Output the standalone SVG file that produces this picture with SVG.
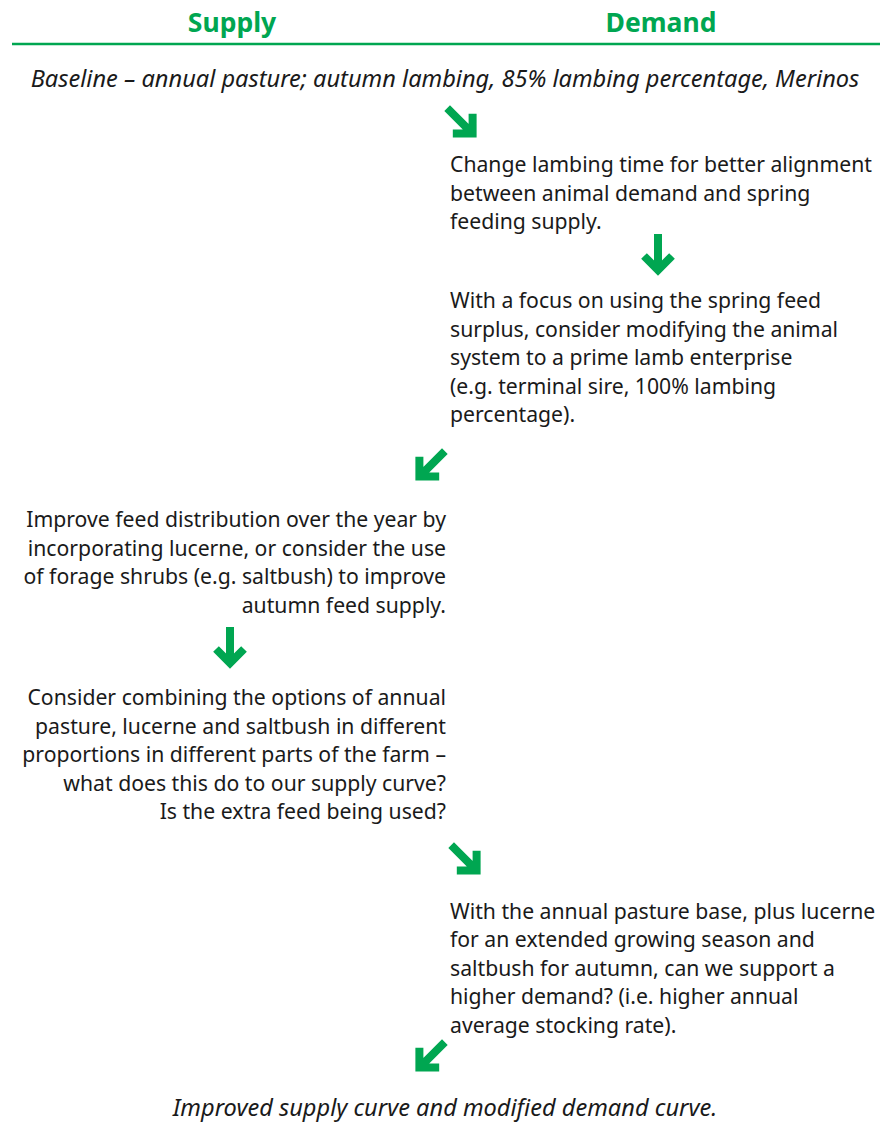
<svg xmlns="http://www.w3.org/2000/svg" width="889" height="1122" viewBox="0 0 889 1122">
<style>
.h{font-family:"Noto Sans","Open Sans",sans-serif;font-weight:bold;font-size:26.5px;fill:#00a651;text-anchor:middle}
.t{font-family:"Noto Sans","Open Sans",sans-serif;font-size:21.2px;fill:#1a1a1a}
.r{text-anchor:end}
.i{font-style:italic;text-anchor:middle;font-size:23.6px}
</style>
<defs>
<g id="arr"><path d="M0,-21 V15 M-14,1 L0,15 L14,1" fill="none" stroke="#00a651" stroke-width="8" stroke-linejoin="miter"/></g>
</defs>
<g id="header">
<text class="h" x="232" y="32">Supply</text>
<text class="h" x="661" y="32">Demand</text>
<line x1="12" y1="44" x2="880" y2="44" stroke="#00a651" stroke-width="2.5"/>
</g>
<g id="baseline"><text class="t i" x="445" y="87">Baseline – annual pasture; autumn lambing, 85% lambing percentage, Merinos</text></g>
<g id="n1">
<text class="t" x="450" y="172">Change lambing time for better alignment</text>
<text class="t" x="450" y="201">between animal demand and spring</text>
<text class="t" x="450" y="229">feeding supply.</text>
</g>
<g id="n2">
<text class="t" x="450" y="308">With a focus on using the spring feed</text>
<text class="t" x="450" y="337">surplus, consider modifying the animal</text>
<text class="t" x="450" y="365">system to a prime lamb enterprise</text>
<text class="t" x="450" y="394">(e.g. terminal sire, 100% lambing</text>
<text class="t" x="450" y="422">percentage).</text>
</g>
<g id="n3">
<text class="t r" x="446" y="527">Improve feed distribution over the year by</text>
<text class="t r" x="446" y="556">incorporating lucerne, or consider the use</text>
<text class="t r" x="446" y="584">of forage shrubs (e.g. saltbush) to improve</text>
<text class="t r" x="446" y="613">autumn feed supply.</text>
</g>
<g id="n4">
<text class="t r" x="446" y="705">Consider combining the options of annual</text>
<text class="t r" x="446" y="734">pasture, lucerne and saltbush in different</text>
<text class="t r" x="446" y="762">proportions in different parts of the farm –</text>
<text class="t r" x="446" y="791">what does this do to our supply curve?</text>
<text class="t r" x="446" y="819">Is the extra feed being used?</text>
</g>
<g id="n5">
<text class="t" x="450" y="919">With the annual pasture base, plus lucerne</text>
<text class="t" x="450" y="947">for an extended growing season and</text>
<text class="t" x="450" y="976">saltbush for autumn, can we support a</text>
<text class="t" x="450" y="1004">higher demand? (i.e. higher annual</text>
<text class="t" x="450" y="1033">average stocking rate).</text>
</g>
<g id="result"><text class="t i" x="445" y="1116">Improved supply curve and modified demand curve.</text></g>
<g id="connectors">
<use href="#arr" transform="translate(462,123) rotate(-45)"/>
<use href="#arr" transform="translate(658,255)"/>
<use href="#arr" transform="translate(430,466) rotate(45)"/>
<use href="#arr" transform="translate(230,648)"/>
<use href="#arr" transform="translate(466,860) rotate(-45)"/>
<use href="#arr" transform="translate(430,1057) rotate(45)"/>
</g>
</svg>
